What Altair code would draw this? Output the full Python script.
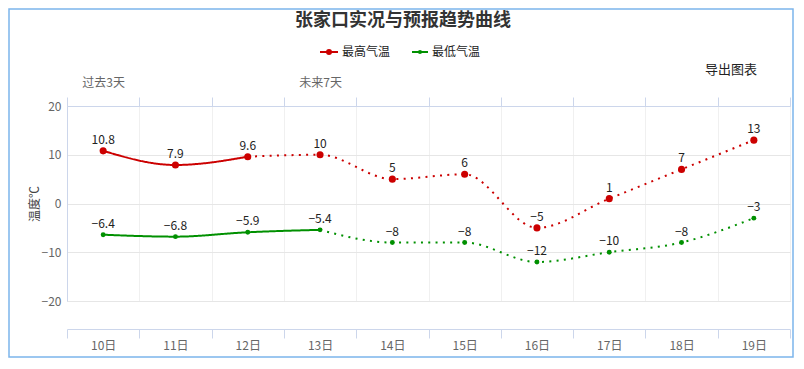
import altair as alt
import pandas as pd

days = ["10日", "11日", "12日", "13日", "14日", "15日", "16日", "17日", "18日", "19日"]
high = [10.8, 7.9, 9.6, 10, 5, 6, -5, 1, 7, 13]
low = [-6.4, -6.8, -5.9, -5.4, -8, -8, -12, -10, -8, -3]
series_names = ["最高气温", "最低气温"]
series_colors = ["#cc0000", "#009000"]
solid_until = [2, 3]  # last index of the observed (solid) part
period_labels = {"10日": "过去3天", "13日": "未来7天"}
title_text = "张家口实况与预报趋势曲线"
export_text = "导出图表"
y_title = "温度℃"
y_ticks = [-20, -10, 0, 10, 20]

FONT = "Noto Sans CJK SC"

rows, pts = [], []
for s, vals, k in zip(series_names, [high, low], solid_until):
    for i, (d, v) in enumerate(zip(days, vals)):
        pts.append(dict(day=d, v=v, series=s))
        if i <= k:
            rows.append(dict(day=d, v=v, series=s, seg="实况", key=s + "实况"))
        if i >= k:
            rows.append(dict(day=d, v=v, series=s, seg="预报", key=s + "预报"))
lines_df = pd.DataFrame(rows)
pts_df = pd.DataFrame(pts)
one = pd.DataFrame({"a": [0]})

xs = alt.Scale(type="band", domain=days, paddingInner=0, paddingOuter=0)
axis_col = "#ccd6eb"

top_expr = " : ".join(
    [f"datum.value == '{k}' ? '{v}'" for k, v in period_labels.items()]
) + " : ''"

x_bottom = alt.X(
    "day:N", scale=xs, sort=days, title=None,
    axis=alt.Axis(orient="bottom", offset=28, tickBand="extent", tickSize=9,
                  tickColor=axis_col, domainColor=axis_col, labelColor="#666",
                  labelFontSize=12, labelPadding=2, labelAngle=0, grid=False),
)
x_top = alt.X(
    "day:N", scale=xs, sort=days, title=None,
    axis=alt.Axis(orient="top", tickBand="extent", tickSize=9, tickColor=axis_col,
                  domainColor=axis_col, labelColor="#666", labelFontSize=12,
                  labelPadding=8, labelAngle=0, grid=True, gridColor="#f0f0f0",
                  labelExpr=top_expr),
)
x_none = alt.X("day:N", scale=xs, sort=days, axis=None)

ys = alt.Scale(domain=[-20, 20], nice=False, zero=False)
y_axis = alt.Y(
    "v:Q", scale=ys, title=None,
    axis=alt.Axis(values=y_ticks, grid=True, gridColor="#e6e6e6", domainColor=axis_col,
                  ticks=False, labelColor="#666", labelFontSize=12, labelPadding=6),
)

color = alt.Color("series:N", scale=alt.Scale(domain=series_names, range=series_colors), legend=None)

border = alt.Chart(one).mark_rect(fillOpacity=0, stroke="#7cb5ec", strokeWidth=1.5).encode(
    x=alt.value(-58), x2=alt.value(726), y=alt.value(-97), y2=alt.value(251)
)

lines = alt.Chart(lines_df).mark_line(interpolate="monotone", strokeWidth=2, strokeCap="butt").encode(
    x=x_bottom, y=y_axis, color=color,
    strokeDash=alt.StrokeDash("seg:N", scale=alt.Scale(domain=["实况", "预报"], range=[[1, 0], [2, 5.3]]), legend=None),
    detail="key:N",
)

hi_pts = alt.Chart(pts_df[pts_df.series == series_names[0]]).mark_point(
    filled=True, opacity=1, size=50, color=series_colors[0]).encode(x=x_top, y=y_axis)
lo_pts = alt.Chart(pts_df[pts_df.series == series_names[1]]).mark_point(
    filled=True, opacity=1, size=24, color=series_colors[1]).encode(x=x_none, y=y_axis)

labels = alt.Chart(pts_df).mark_text(dy=-7, baseline="alphabetic", fontSize=12, color="#222").encode(
    x=x_none, y=y_axis, text=alt.Text("v:Q", format="~g")
)

title = alt.Chart(one).mark_text(fontSize=18, fontWeight="bold", color="#333", align="center", baseline="middle").encode(
    x=alt.value(336), y=alt.value(-85), text=alt.value(title_text))
export = alt.Chart(one).mark_text(fontSize=13, color="#222", align="center", baseline="middle").encode(
    x=alt.value(664), y=alt.value(-36), text=alt.value(export_text))
ytitle = alt.Chart(one).mark_text(fontSize=12, color="#444", align="center", baseline="middle", angle=270).encode(
    x=alt.value(-32), y=alt.value(98), text=alt.value(y_title))

legend_layers = []
leg_x = [253, 345]
leg_w = [18, 16]
leg_size = [36, 18]
for name, col, lx, lw, sz in zip(series_names, series_colors, leg_x, leg_w, leg_size):
    legend_layers.append(alt.Chart(one).mark_rule(color=col, strokeWidth=2).encode(
        x=alt.value(lx), x2=alt.value(lx + lw), y=alt.value(-54)))
    legend_layers.append(alt.Chart(one).mark_point(filled=True, opacity=1, color=col, size=sz).encode(
        x=alt.value(lx + lw / 2), y=alt.value(-54)))
    legend_layers.append(alt.Chart(one).mark_text(fontSize=12, color="#222", align="left", baseline="middle").encode(
        x=alt.value(lx + lw + 4), y=alt.value(-54), text=alt.value(name)))

chart = alt.layer(
    border, lines, hi_pts, lo_pts, labels, title, export, ytitle, *legend_layers
).resolve_axis(x="independent", y="shared").properties(
    width=723, height=195,
    autosize=alt.AutoSizeParams(type="none"),
    padding={"left": 59, "top": 98, "right": 4, "bottom": 57},
).configure_view(stroke=None).configure(font=FONT)

chart.save("out.html", embed_options={"renderer": "svg", "actions": False})
